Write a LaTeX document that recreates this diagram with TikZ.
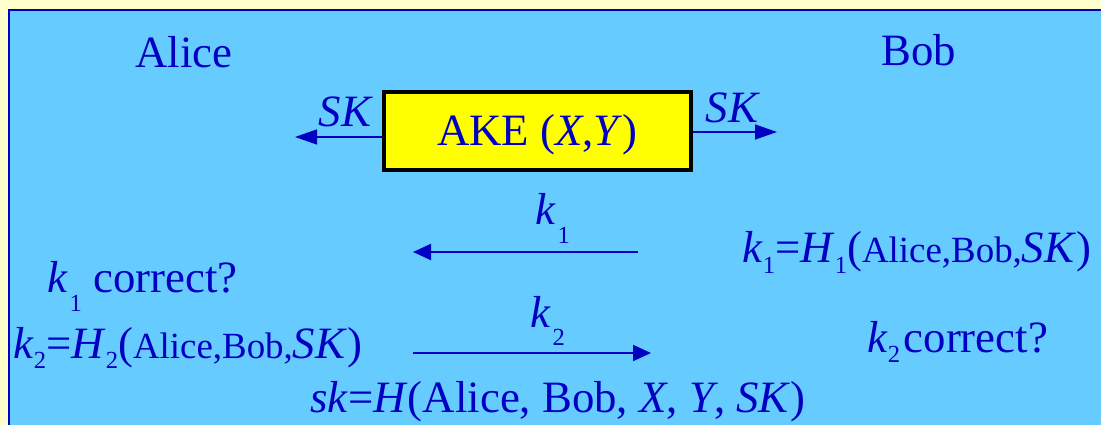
\documentclass[tikz,border=0pt]{standalone}
\usepackage{fontspec}
\setmainfont{Liberation Serif}
\usetikzlibrary{arrows.meta,positioning}

\definecolor{ink}{RGB}{0,0,195}
\definecolor{sky}{RGB}{102,204,255}
\definecolor{cream}{RGB}{255,255,204}
\definecolor{akeyellow}{RGB}{255,255,0}

% lowered index digit and the smaller names inside the hash
\newcommand{\idx}[2][6]{\raisebox{-#1pt}{\fontsize{14}{14}\selectfont #2}}
\newcommand{\names}[1]{{\fontsize{21}{21}\selectfont #1}}

\begin{document}
\begin{tikzpicture}[
  x=0.02cm,y=-0.02cm,
  txt/.style={inner sep=0pt,text=ink,font=\fontsize{25.5}{30}\selectfont},
  akebox/.style={draw=black,line width=2.2pt,fill=akeyellow,
    minimum width=6.14cm,minimum height=1.56cm,inner sep=0pt},
  skflow/.style={-{Triangle[length=0.44cm,width=0.3cm]},ink,line width=0.8pt},
  kflow/.style={-{Triangle[length=0.36cm,width=0.32cm]},ink,line width=1.1pt}
]
  \useasboundingbox (0,0) rectangle (1101,425);
  \clip (0,0) rectangle (1101,425);
  \fill[cream] (0,0) rectangle (1101,425);
  \filldraw[fill=sky,draw=ink,line width=0.6pt] (9,10) rectangle (1120,440);

  % parties
  \node[txt,anchor=base] (alice) at (184,68) {Alice};
  \node[txt,anchor=base] (bob) at (919,66) {Bob};

  % key exchange and its output
  \node[akebox] (ake) at (537.5,131) {};
  \node[txt,anchor=base] (akelbl) at (ake.center |- 0,146) {AKE (\textit{X},\textit{Y})};
  \coordinate (skL) at (295,137);
  \coordinate (skR) at (777,132);
  \draw[skflow] (ake.west |- skL) -- (skL);
  \draw[skflow] (ake.east |- skR) -- (skR);
  \node[txt,anchor=base] (skLlbl) at (346,127) {\textit{SK}};
  \node[txt,anchor=base] (skRlbl) at (733,123) {\textit{SK}};

  % confirmation messages
  \coordinate (k1from) at (638,252);
  \coordinate (k1to) at (413,252);
  \draw[kflow] (k1from) -- (k1to);
  \node[txt,anchor=base west] (k1lbl) at (535,225) {\textit{k}\kern1pt\idx[10.5]{1}};
  \coordinate (k2from) at (413,353);
  \coordinate (k2to) at (651,353);
  \draw[kflow] (k2from) -- (k2to);
  \node[txt,anchor=base west] (k2lbl) at (530,327) {\textit{k}\kern1pt\idx[10.5]{2}};

  % Alice side
  \node[txt,anchor=base west] (k1chk) at (47,293) {\textit{k}\kern1pt\idx[10.5]{1} correct?};
  \node[txt,anchor=base west] (k2def) at (13,358)
    {\textit{k}\idx{2}=\textit{H}\idx{2}(\names{Alice,Bob,}\textit{SK})};

  % Bob side
  \node[txt,anchor=base west] (k1def) at (742,263)
    {\textit{k}\idx{1}=\textit{H}\idx{1}(\names{Alice,Bob,}\textit{SK})};
  \node[txt,anchor=base west] (k2chk) at (867,352) {\textit{k}\idx{2}\hspace{2pt}correct?};

  % session key
  \node[txt,anchor=base west] (sk) at (310,412)
    {\textit{sk}=\textit{H}(Alice, Bob, \textit{X}, \textit{Y}, \textit{SK})};
\end{tikzpicture}
\end{document}
